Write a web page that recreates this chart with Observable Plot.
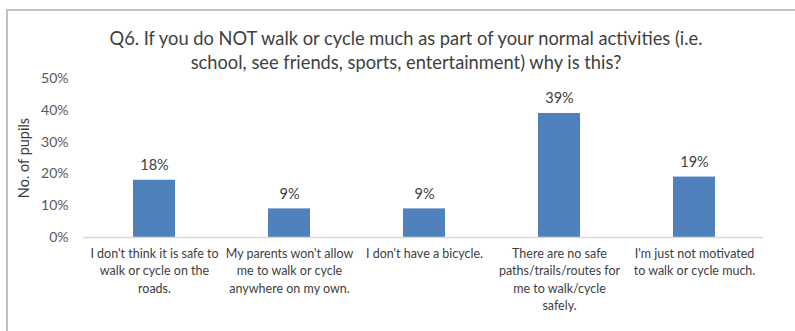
<!DOCTYPE html>
<html>
<head>
<meta charset="utf-8">
<script src="https://cdn.jsdelivr.net/npm/d3@7"></script>
<script src="https://cdn.jsdelivr.net/npm/@observablehq/plot@0.6"></script>
<style>
  html, body { margin: 0; padding: 0; background: #fff; }
  #wrap { position: relative; width: 795px; height: 331px; overflow: hidden; font-family: Lato, "Open Sans", sans-serif; }
  #frame { position: absolute; left: 6px; top: 9px; width: 800px; height: 340px; border-left: 2px solid #b9c1cc; border-top: 2px solid #b9c1cc; box-sizing: border-box; }
  #title { position: absolute; left: 0; width: 812px; top: 26px; text-align: center; font-size: 18.3px; line-height: 24px; color: #404040; }
  #chart { position: absolute; left: 0; top: 0; }
</style>
</head>
<body>
<div id="wrap">
  <div id="frame"></div>
  <div id="chart"></div>
  <div id="title">Q6. If you do NOT walk or cycle much as part of your normal activities (i.e.<br>school, see friends, sports, entertainment) why is this?</div>
</div>
<script>
const categories = [
  "I don't think it is safe to walk or cycle on the roads.",
  "My parents won't allow me to walk or cycle anywhere on my own.",
  "I don't have a bicycle.",
  "There are no safe paths/trails/routes for me to walk/cycle safely.",
  "I'm just not motivated to walk or cycle much."
];
const categoryLines = [
  "I don't think it is safe to\nwalk or cycle on the\nroads.",
  "My parents won't allow\nme to walk or cycle\nanywhere on my own.",
  "I don't have a bicycle.",
  "There are no safe\npaths/trails/routes for\nme to walk/cycle\nsafely.",
  "I'm just not motivated\nto walk or cycle much."
];
const values = [18, 9, 9, 39, 19];
const yTicks = [0, 10, 20, 30, 40, 50];
const yLabel = "No. of pupils";

const data = categories.map((c, i) => ({category: c, value: values[i]}));
const lineOf = new Map(categories.map((c, i) => [c, categoryLines[i]]));

const chart = Plot.plot({
  width: 795,
  height: 331,
  marginTop: 78,
  marginBottom: 94,
  marginLeft: 84,
  marginRight: 32,
  style: {fontFamily: "Lato, 'Open Sans', sans-serif", background: "transparent", color: "#404040"},
  x: {domain: categories, paddingInner: 0.69, paddingOuter: 0.345, align: 0.5},
  y: {domain: [0, 50], ticks: yTicks},
  marks: [
    Plot.axisY({ticks: yTicks, tickSize: 0, tickPadding: 16, tickFormat: d => d + "%", fontSize: 14, color: "#595959", label: null}),
    Plot.text([yLabel], {frameAnchor: "left", textAnchor: "middle", dx: -60, rotate: -90, fontSize: 14.5, fill: "#404040"}),
    Plot.axisX({tickSize: 0, tickPadding: 8, tickFormat: d => lineOf.get(d), fontSize: 12.5, color: "#404040", lineHeight: 1.4, label: null, lineAnchor: "top"}),
    Plot.barY(data, {x: "category", y: "value", fill: "#4f81bd"}),
    Plot.ruleY([0], {stroke: "#d9d9d9", strokeWidth: 1.5, insetLeft: -1}),
    Plot.text(data, {x: "category", y: "value", text: d => d.value + "%", dy: -15, fontSize: 14.5, fill: "#404040"})
  ]
});
document.getElementById("chart").appendChild(chart);
</script>
</body>
</html>
